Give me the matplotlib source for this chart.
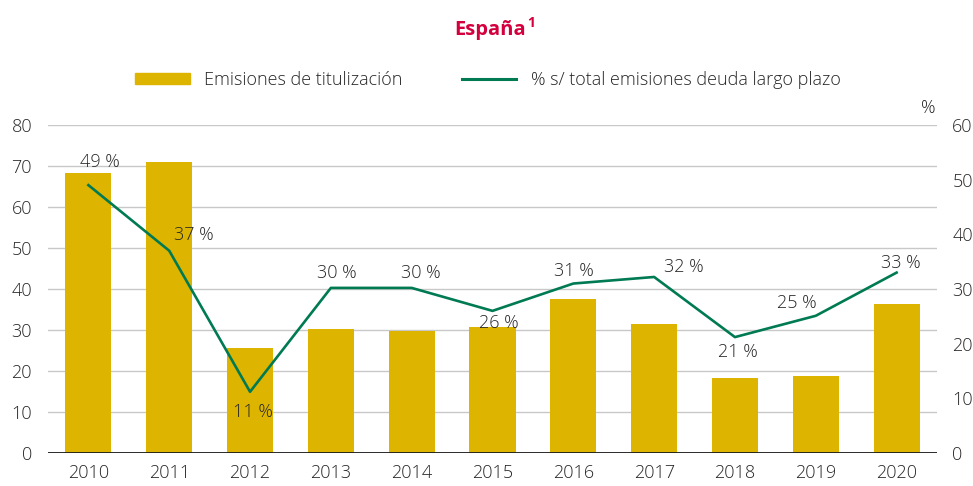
import matplotlib
matplotlib.use("Agg")
import matplotlib.pyplot as plt
from matplotlib.lines import Line2D
from matplotlib.patches import Patch

years = ["2010", "2011", "2012", "2013", "2014", "2015", "2016", "2017", "2018", "2019", "2020"]
emisiones = [68.3, 71.0, 25.6, 30.2, 29.8, 30.7, 37.6, 31.5, 18.4, 18.8, 36.3]
porcentaje = [49.0, 37.0, 11.2, 30.2, 30.2, 26.0, 31.0, 32.2, 21.2, 25.1, 33.0]
etiquetas = ["49 %", "37 %", "11 %", "30 %", "30 %", "26 %", "31 %", "32 %", "21 %", "25 %", "33 %"]
left_ticks = [0, 10, 20, 30, 40, 50, 60, 70, 80]
right_ticks = [0, 10, 20, 30, 40, 50, 60]

# label offsets in pixels (dx, dy)
offsets = [(11, 23), (25, 16), (3, -20), (6, 15), (9, 15), (6, -12),
           (1, 13), (30, 10), (3, -15), (-19, 13), (4, 10)]

BAR = "#DDB500"
LINE = "#007A53"
TXT = "#262626"
TITLE = "#D4003D"

plt.rcParams['font.family'] = ['Open Sans', 'DejaVu Sans']
plt.rcParams['font.weight'] = 'light'

fig = plt.figure(figsize=(9.73, 4.86), dpi=100)
ax = fig.add_axes([48/973, 33/486, 889/973, 328/486])
ax2 = ax.twinx()

x = list(range(len(years)))
ax.bar(x, emisiones, width=0.57, color=BAR, zorder=2)
ax.set_xlim(-0.5, 10.5)
ax.set_ylim(0, 80)
ax.set_yticks(left_ticks)
ax.set_xticks(x)
ax.set_xticklabels(years)
ax.grid(axis='y', color='#c8c8c8', lw=1.0, zorder=0)
ax.set_axisbelow(True)

ax2.plot(x, porcentaje, color=LINE, lw=1.9, zorder=3)
ax2.set_ylim(0, 60)
ax2.set_yticks(right_ticks)

for a in (ax, ax2):
    for s in ("top", "left", "right", "bottom"):
        a.spines[s].set_visible(False)
    a.tick_params(length=0, labelsize=13, colors=TXT)
ax.tick_params(axis='y', pad=11.5)
ax2.tick_params(axis='y', pad=11)
ax.tick_params(axis='x', pad=8)
ax.axhline(0, color="#1a1a1a", lw=1.3, zorder=4)

for xi, yi, lab, (dx, dy) in zip(x, porcentaje, etiquetas, offsets):
    ax2.annotate(lab, (xi, yi), xytext=(dx, dy), textcoords='offset pixels',
                 ha='center', va='center', fontsize=13, color=TXT, zorder=5)

fig.text(928/973, 1 - 108/486, "%", ha='center', va='center', fontsize=13, color=TXT)
fig.text(526/973, 1 - 30/486, "España", ha='right', va='center',
         fontsize=14.5, color=TITLE, fontweight='bold')
fig.text(527/973, 1 - 23/486, "1", ha='left', va='center',
         fontsize=10, color=TITLE, fontweight='bold')

handles = [Patch(color=BAR), Line2D([0], [0], color=LINE, lw=2.2)]
labels = ["Emisiones de titulización", "% s/ total emisiones deuda largo plazo"]
leg = fig.legend(handles, labels, loc='center', bbox_to_anchor=(488/973, 1 - 80/486),
                 ncol=2, frameon=False, fontsize=13, handlelength=3.0, handleheight=0.55,
                 columnspacing=3.3, handletextpad=0.8, labelcolor=TXT)

fig.savefig("out.png", dpi=100)
